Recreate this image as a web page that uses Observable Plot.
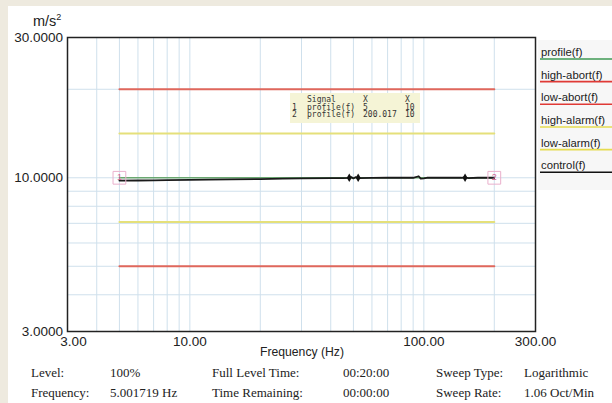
<!DOCTYPE html>
<html><head><meta charset="utf-8">
<script src="https://cdn.jsdelivr.net/npm/d3@7"></script>
<script src="https://cdn.jsdelivr.net/npm/@observablehq/plot@0.6"></script>
<style>
html,body{margin:0;padding:0;background:#eeeadf;}
#wrap{position:relative;width:612px;height:403px;overflow:hidden;}
#panel{position:absolute;left:8px;top:6px;right:0;bottom:0;background:#fff;}
#chart{position:absolute;left:0;top:0;}
</style></head>
<body><div id="wrap"><div id="panel"></div><div id="chart"></div></div>
<script>
// ---- data ----
const limitFreq = [5, 200];
const highAbort = [20, 20];
const lowAbort = [5, 5];
const highAlarm = [14.14, 14.14];
const lowAlarm = [7.07, 7.07];
const profileFreq = [5, 200];
const profileAccel = [10, 10];
const controlFreq = [5, 6, 7, 8, 10, 12, 15, 20, 25, 30, 40, 45, 48, 49, 50, 51, 53, 60, 70, 80, 90, 95, 97, 100, 103, 110, 130, 145, 150, 155, 170, 190, 200];
const controlAccel = [9.78, 9.79, 9.80, 9.81, 9.83, 9.85, 9.87, 9.9, 9.93, 9.95, 9.97, 9.98, 9.99, 10.05, 9.95, 10.05, 9.98, 9.99, 10.0, 10.0, 10.0, 10.12, 9.93, 9.96, 10.0, 10.0, 10.0, 10.0, 10.04, 9.98, 10.0, 10.0, 10.0];
const blobFreq = [48, 52.4, 150];
const blobAccel = [10, 10, 10];
const cursorFreq = [5, 200];
const cursorAccel = [10, 10];
const cursorLabels = ["1", "2"];
const xTicksFirst = [3];
const xTicks = [10, 100, 300];
const yTicks = [3, 10, 30];
const gridXValues = [4,5,6,7,8,9,10,20,30,40,50,60,70,80,90,100,200];
const gridYValues = [4,5,6,7,8,9,10,20];
const legendNames = ["profile(f)", "high-abort(f)", "low-abort(f)", "high-alarm(f)", "low-alarm(f)", "control(f)"];
const legendColors = ["#3f9a55", "#e03a36", "#e03a36", "#e6dc50", "#e6dc50", "#111111"];
const cursorHeader = ["", "Signal", "X", "X"];
const cursorRow1 = ["1", "profile(f)", "5", "10"];
const cursorRow2 = ["2", "profile(f)", "200.017", "10"];
const infoLabels1 = ["Level:", "Full Level Time:", "Sweep Type:"];
const infoValues1 = ["100%", "00:20:00", "Logarithmic"];
const infoLabels2 = ["Frequency:", "Time Remaining:", "Sweep Rate:"];
const infoValues2 = ["5.001719 Hz", "00:00:00", "1.06 Oct/Min"];

const pts = (xs, ys) => xs.map((x, i) => ({x, y: ys[i]}));

const red = "#e0675c", yellow = "#e5e07a";
const axisFont = "'Liberation Sans', Arial, sans-serif";
const plot = Plot.plot({
  width: 612, height: 403,
  marginLeft: 67, marginRight: 77, marginTop: 37, marginBottom: 72,
  style: {background: "transparent", overflow: "visible", fontFamily: axisFont},
  x: {type: "log", domain: [3, 300]},
  y: {type: "log", domain: [3, 30]},
  marks: [
    Plot.ruleX(gridXValues, {stroke: "#cfe0ec", strokeWidth: 1}),
    Plot.ruleY(gridYValues, {stroke: "#cfe0ec", strokeWidth: 1}),
    Plot.line(pts(limitFreq, highAbort), {x: "x", y: "y", stroke: red, strokeWidth: 2}),
    Plot.line(pts(limitFreq, lowAbort), {x: "x", y: "y", stroke: red, strokeWidth: 2}),
    Plot.line(pts(limitFreq, highAlarm), {x: "x", y: "y", stroke: yellow, strokeWidth: 2}),
    Plot.line(pts(limitFreq, lowAlarm), {x: "x", y: "y", stroke: yellow, strokeWidth: 2}),
    Plot.line(pts(profileFreq, profileAccel), {x: "x", y: "y", stroke: "#6aa870", strokeWidth: 1.5}),
    Plot.line(pts(controlFreq, controlAccel), {x: "x", y: "y", stroke: "#1a1a1a", strokeWidth: 1.8}),
    Plot.dot(pts(blobFreq, blobAccel), {x: "x", y: "y", symbol: "diamond", r: 2.6, fill: "#111"}),
    Plot.dot(pts(cursorFreq, cursorAccel), {x: "x", y: "y", symbol: "square", r: 7.2, stroke: "#eab0cc", strokeWidth: 1, fill: "none"}),
    Plot.text(cursorFreq.map((x, i) => ({x, y: cursorAccel[i], t: cursorLabels[i]})), {x: "x", y: "y", text: "t", fill: "#d06090", fontSize: 9, dy: -1}),
    Plot.axisX({ticks: xTicksFirst, tickFormat: d3.format(".2f"), tickSize: 0, tickPadding: 5, fontSize: 13.5, fill: "#222", label: null, dx: 6}),
    Plot.axisX({ticks: xTicks, tickFormat: d3.format(".2f"), tickSize: 0, tickPadding: 5, fontSize: 13.5, fill: "#222", label: null}),
    Plot.axisY({ticks: yTicks, tickFormat: d3.format(".4f"), tickSize: 0, tickPadding: 4.5, fontSize: 13.5, fill: "#222", label: null}),
    Plot.frame({stroke: "#222", strokeWidth: 1.5})
  ]
});
document.getElementById("chart").appendChild(plot);

const svg = d3.select(plot);
const addText = (x, y, t, size, family, fill, anchor) =>
  svg.append("text").attr("x", x).attr("y", y).attr("font-size", size).attr("font-family", family)
    .attr("fill", fill || "#222").attr("text-anchor", anchor || "start").text(t);

// y unit
const unit = svg.append("text").attr("x", 33).attr("y", 26).attr("font-size", 14.5).attr("fill", "#222")
  .attr("text-anchor", "start").attr("font-family", axisFont);
unit.append("tspan").text("m/s");
unit.append("tspan").text("2").attr("font-size", 9).attr("dy", -6);
// x label
addText(302, 356, "Frequency (Hz)", 12.2, axisFont, "#222", "middle");

// legend
svg.append("rect").attr("x", 538).attr("y", 40).attr("width", 74).attr("height", 150).attr("fill", "#f7f7f7");
legendNames.forEach((n, i) => {
  const ly = 59 + i * 22.65;
  svg.append("line").attr("x1", 540).attr("x2", 612).attr("y1", ly).attr("y2", ly)
    .attr("stroke", legendColors[i]).attr("stroke-width", 1.6);
  addText(541, ly - 3, n, 11.3, axisFont, "#222");
});

// cursor box
svg.append("rect").attr("x", 290).attr("y", 93).attr("width", 130).attr("height", 30).attr("fill", "#f5f4d6");
const colX = [292, 307, 363, 405];
[cursorHeader, cursorRow1, cursorRow2].forEach((row, r) => {
  row.forEach((c, j) => addText(colX[j], 102 + r * 7.6, c, 8, "'DejaVu Sans Mono', monospace", "#333"));
});

// info table
const serif = "'Liberation Serif', 'Times New Roman', serif";
const infoCols = [[31, infoLabels1, infoLabels2, 0], [110, infoValues1, infoValues2, 0], [212, infoLabels1, infoLabels2, 1], [343, infoValues1, infoValues2, 1], [436, infoLabels1, infoLabels2, 2], [524, infoValues1, infoValues2, 2]];
infoCols.forEach(([x, a, b, k]) => {
  [a[k], b[k]].forEach((t, r) => addText(x, 377 + r * 19.5, t, 13, serif, "#222"));
});
</script></body></html>
